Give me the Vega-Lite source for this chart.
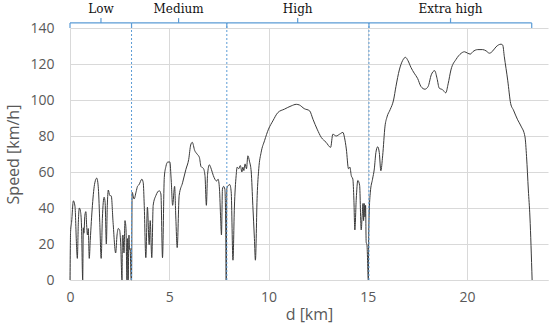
{
  "$schema": "https://vega.github.io/schema/vega-lite/v6.json",
  "width": 478,
  "height": 252,
  "autosize": {"type": "none"},
  "padding": {"left": 70, "top": 28, "right": 2, "bottom": 55},
  "background": "white",
  "config": {
    "view": {"stroke": null},
    "axisX": {"grid": true, "gridColor": "#d9d9d9", "gridWidth": 1,
      "domainColor": "#d9d9d9", "ticks": false, "labelFlush": false, "labelOverlap": false,
      "labelFont": "Open Sans", "labelFontSize": 14, "labelColor": "#595959", "labelPadding": 10,
      "titleFont": "Open Sans", "titleFontSize": 16, "titleFontWeight": "normal",
      "titleColor": "#595959", "titlePadding": 2},
    "axisY": {"grid": true, "gridColor": "#d9d9d9", "gridWidth": 1,
      "domain": false, "ticks": false, "labelFlush": false, "labelOverlap": false,
      "labelFont": "Open Sans", "labelFontSize": 14, "labelColor": "#595959", "labelPadding": 16,
      "titleFont": "Open Sans", "titleFontSize": 16, "titleFontWeight": "normal",
      "titleColor": "#595959", "titlePadding": 8}
  },
  "datasets": {
    "speed": [
      {"d":0,"v":0},{"d":0.03,"v":27},{"d":0.08,"v":32},{"d":0.17,"v":44},{"d":0.25,"v":41},{"d":0.33,"v":19},{"d":0.37,"v":12},{"d":0.42,"v":32},{"d":0.47,"v":40},{"d":0.53,"v":38},{"d":0.58,"v":30},{"d":0.64,"v":0},{"d":0.67,"v":29},{"d":0.7,"v":26},{"d":0.75,"v":36},{"d":0.8,"v":38},{"d":0.84,"v":30},{"d":0.88,"v":25},{"d":0.92,"v":28.6},{"d":0.97,"v":12},{"d":1.02,"v":22},{"d":1.13,"v":41.5},{"d":1.25,"v":54},{"d":1.35,"v":56.6},{"d":1.43,"v":50.7},{"d":1.5,"v":32},{"d":1.57,"v":12},{"d":1.63,"v":34},{"d":1.72,"v":46},{"d":1.77,"v":43},{"d":1.83,"v":20},{"d":1.88,"v":41.5},{"d":1.93,"v":50},{"d":2.0,"v":47},{"d":2.08,"v":46.7},{"d":2.17,"v":32},{"d":2.3,"v":15},{"d":2.37,"v":25},{"d":2.43,"v":28.6},{"d":2.5,"v":27.7},{"d":2.55,"v":21},{"d":2.62,"v":0},{"d":2.64,"v":24},{"d":2.67,"v":25},{"d":2.72,"v":15},{"d":2.77,"v":33},{"d":2.82,"v":28.6},{"d":2.87,"v":0},{"d":2.9,"v":23},{"d":2.93,"v":0},{"d":2.97,"v":25},{"d":3.0,"v":17},{"d":3.03,"v":17.5},{"d":3.08,"v":0},
      {"d":3.1,"v":0},{"d":3.13,"v":48.7},{"d":3.23,"v":45},{"d":3.33,"v":49},{"d":3.4,"v":52},{"d":3.48,"v":53},{"d":3.62,"v":56},{"d":3.69,"v":54},{"d":3.74,"v":41.5},{"d":3.82,"v":12.4},{"d":3.9,"v":40.5},{"d":3.99,"v":19.6},{"d":4.04,"v":33},{"d":4.12,"v":12.4},{"d":4.19,"v":41.5},{"d":4.33,"v":47},{"d":4.5,"v":49.6},{"d":4.58,"v":47.8},{"d":4.66,"v":12.4},{"d":4.75,"v":57},{"d":4.83,"v":63},{"d":4.92,"v":65.5},{"d":5.03,"v":65.6},{"d":5.1,"v":55},{"d":5.17,"v":41.5},{"d":5.27,"v":52},{"d":5.33,"v":35},{"d":5.4,"v":18},{"d":5.5,"v":47},{"d":5.67,"v":54},{"d":5.84,"v":61.5},{"d":5.98,"v":67},{"d":6.08,"v":75},{"d":6.16,"v":76.5},{"d":6.28,"v":72},{"d":6.4,"v":70},{"d":6.52,"v":68},{"d":6.6,"v":63},{"d":6.72,"v":62},{"d":6.8,"v":58},{"d":6.87,"v":41.5},{"d":6.93,"v":58.7},{"d":7.02,"v":64},{"d":7.12,"v":61.5},{"d":7.22,"v":58},{"d":7.39,"v":55},{"d":7.46,"v":56},{"d":7.53,"v":50.5},{"d":7.59,"v":34},{"d":7.63,"v":25},{"d":7.68,"v":50.5},{"d":7.74,"v":52},{"d":7.8,"v":50.5},{"d":7.84,"v":35},{"d":7.87,"v":0},
      {"d":7.9,"v":50.7},{"d":7.98,"v":52.6},{"d":8.05,"v":53},{"d":8.12,"v":49},{"d":8.21,"v":11},{"d":8.28,"v":40},{"d":8.37,"v":58},{"d":8.42,"v":62.7},{"d":8.5,"v":61.8},{"d":8.58,"v":63.6},{"d":8.66,"v":60},{"d":8.71,"v":62.7},{"d":8.76,"v":60.8},{"d":8.82,"v":64.5},{"d":8.89,"v":61.8},{"d":8.96,"v":69},{"d":9.04,"v":66},{"d":9.13,"v":60},{"d":9.21,"v":41.5},{"d":9.29,"v":23},{"d":9.34,"v":11},{"d":9.43,"v":47},{"d":9.51,"v":61.8},{"d":9.63,"v":71},{"d":9.8,"v":77.4},{"d":10.0,"v":83.8},{"d":10.22,"v":88.4},{"d":10.47,"v":93},{"d":10.8,"v":94.9},{"d":11.14,"v":96.7},{"d":11.4,"v":97.6},{"d":11.56,"v":97.2},{"d":11.8,"v":95.2},{"d":12.07,"v":94},{"d":12.24,"v":89.3},{"d":12.45,"v":83.8},{"d":12.66,"v":79.2},{"d":12.9,"v":76.5},{"d":13.13,"v":73.7},{"d":13.24,"v":81},{"d":13.41,"v":80},{"d":13.58,"v":81},{"d":13.75,"v":82},{"d":13.83,"v":79},{"d":13.92,"v":72.8},{"d":14.03,"v":61.8},{"d":14.1,"v":62.7},{"d":14.17,"v":58},{"d":14.25,"v":56},{"d":14.3,"v":45},{"d":14.35,"v":27.8},{"d":14.42,"v":45},{"d":14.5,"v":55.3},{"d":14.59,"v":52.6},{"d":14.67,"v":27.8},{"d":14.72,"v":36},{"d":14.76,"v":42.5},{"d":14.79,"v":33},{"d":14.82,"v":42.5},{"d":14.86,"v":35},{"d":14.89,"v":41.5},{"d":14.92,"v":21},{"d":14.96,"v":19.5},{"d":15.03,"v":0},
      {"d":15.045,"v":21},{"d":15.07,"v":36},{"d":15.13,"v":48.8},{"d":15.24,"v":56},{"d":15.33,"v":61.7},{"d":15.41,"v":70.8},{"d":15.5,"v":74},{"d":15.58,"v":70.8},{"d":15.66,"v":60.7},{"d":15.75,"v":69},{"d":15.87,"v":85.5},{"d":15.97,"v":90.6},{"d":16.13,"v":94.7},{"d":16.3,"v":100},{"d":16.42,"v":107.5},{"d":16.59,"v":116.7},{"d":16.76,"v":122},{"d":16.9,"v":123.7},{"d":17.02,"v":122},{"d":17.18,"v":118},{"d":17.34,"v":114.9},{"d":17.51,"v":112},{"d":17.68,"v":107.5},{"d":17.88,"v":106},{"d":18.04,"v":107.5},{"d":18.2,"v":114},{"d":18.37,"v":116.3},{"d":18.49,"v":112},{"d":18.6,"v":106.6},{"d":18.77,"v":105.7},{"d":18.93,"v":104},{"d":19.05,"v":109},{"d":19.19,"v":116.7},{"d":19.45,"v":122.6},{"d":19.7,"v":125.9},{"d":19.87,"v":126.8},{"d":20.03,"v":126},{"d":20.17,"v":125.5},{"d":20.29,"v":126.8},{"d":20.54,"v":128},{"d":20.79,"v":128},{"d":20.96,"v":127.3},{"d":21.13,"v":126},{"d":21.3,"v":127.3},{"d":21.46,"v":129.5},{"d":21.71,"v":131},{"d":21.8,"v":130.5},{"d":21.88,"v":124},{"d":22.05,"v":111},{"d":22.2,"v":98},{"d":22.34,"v":94.4},{"d":22.55,"v":89},{"d":22.72,"v":85.5},{"d":22.92,"v":79.6},{"d":23.0,"v":68.5},{"d":23.09,"v":50},{"d":23.17,"v":35},{"d":23.28,"v":0}
    ],
    "bounds": [
      {"d":3.1,"lo":0,"hi":142.8},{"d":7.9,"lo":0,"hi":142.8},{"d":15.06,"lo":0,"hi":142.8}
    ],
    "brackets": [
      {"d1":0,"d2":3.1,"v1":142.8,"v2":142.8},
      {"d1":3.1,"d2":7.9,"v1":142.8,"v2":142.8},
      {"d1":7.9,"d2":15.06,"v1":142.8,"v2":142.8},
      {"d1":15.06,"d2":23.26,"v1":142.8,"v2":142.8},
      {"d1":0,"d2":0,"v1":140,"v2":142.8},
      {"d1":3.1,"d2":3.1,"v1":140,"v2":142.8},
      {"d1":7.9,"d2":7.9,"v1":140,"v2":142.8},
      {"d1":15.06,"d2":15.06,"v1":140,"v2":142.8},
      {"d1":23.26,"d2":23.26,"v1":140,"v2":142.8},
      {"d1":1.56,"d2":1.56,"v1":142.8,"v2":145.5},
      {"d1":5.47,"d2":5.47,"v1":142.8,"v2":145.5},
      {"d1":11.47,"d2":11.47,"v1":142.8,"v2":145.5},
      {"d1":19.17,"d2":19.17,"v1":142.8,"v2":145.5}
    ],
    "phases": [
      {"label":"Low","mid":1.56,"v":150.5},
      {"label":"Medium","mid":5.47,"v":150.5},
      {"label":"High","mid":11.47,"v":150.5},
      {"label":"Extra high","mid":19.17,"v":150.5}
    ]
  },
  "layer": [
    {
      "data": {"name": "speed"},
      "mark": {"type": "line", "color": "#3a3a3a", "strokeWidth": 1, "interpolate": "monotone"},
      "encoding": {
        "x": {"field": "d", "type": "quantitative",
          "scale": {"domain": [0, 24.08], "nice": false, "zero": false},
          "axis": {"values": [0,5,10,15,20], "title": "d [km]"}},
        "y": {"field": "v", "type": "quantitative",
          "scale": {"domain": [0, 140], "nice": false},
          "axis": {"values": [0,20,40,60,80,100,120,140], "title": "Speed [km/h]"}}
      }
    },
    {
      "data": {"name": "bounds"},
      "mark": {"type": "rule", "color": "#5b9bd5", "strokeWidth": 1, "strokeDash": [2, 2]},
      "encoding": {
        "x": {"field": "d", "type": "quantitative", "axis": {"values": [0,5,10,15,20], "title": "d [km]"}},
        "y": {"field": "lo", "type": "quantitative", "axis": {"values": [0,20,40,60,80,100,120,140], "title": "Speed [km/h]"}},
        "y2": {"field": "hi"}
      }
    },
    {
      "data": {"name": "brackets"},
      "mark": {"type": "rule", "color": "#5b9bd5", "strokeWidth": 1.2},
      "encoding": {
        "x": {"field": "d1", "type": "quantitative", "axis": {"values": [0,5,10,15,20], "title": "d [km]"}},
        "x2": {"field": "d2"},
        "y": {"field": "v1", "type": "quantitative", "axis": {"values": [0,20,40,60,80,100,120,140], "title": "Speed [km/h]"}},
        "y2": {"field": "v2"}
      }
    },
    {
      "data": {"name": "phases"},
      "mark": {"type": "text", "font": "DejaVu Serif", "fontSize": 12, "color": "#111111", "align": "center", "baseline": "middle"},
      "encoding": {
        "x": {"field": "mid", "type": "quantitative", "axis": {"values": [0,5,10,15,20], "title": "d [km]"}},
        "y": {"field": "v", "type": "quantitative", "axis": {"values": [0,20,40,60,80,100,120,140], "title": "Speed [km/h]"}},
        "text": {"field": "label"}
      }
    }
  ]
}
